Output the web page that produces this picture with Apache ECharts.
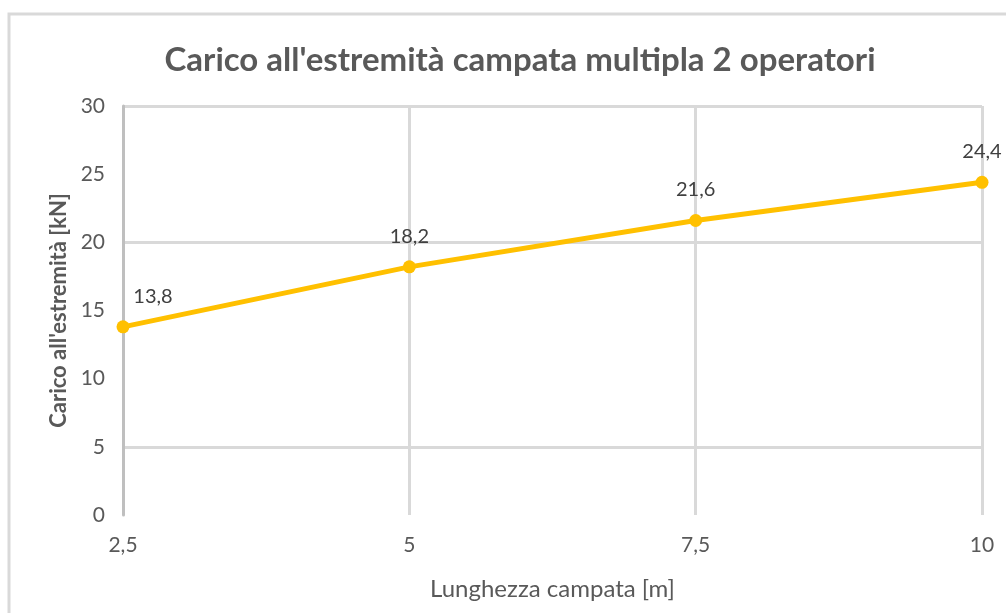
<!DOCTYPE html>
<html>
<head>
<meta charset="utf-8">
<script src="https://cdn.jsdelivr.net/npm/echarts@6/dist/echarts.min.js"></script>
<style>
  html, body { margin: 0; padding: 0; background: #ffffff; }
  #chart { width: 1006px; height: 613px; }
</style>
</head>
<body>
<div id="chart"></div>
<script>
// Span length (m) and end load (kN) for a multi-span run with two workers
const spanLengths = [2.5, 5, 7.5, 10];
const endLoads = [13.8, 18.2, 21.6, 24.4];
const yTicks = [0, 5, 10, 15, 20, 25, 30];

const titleText = "Carico all'estremità campata multipla 2 operatori";
const xName = 'Lunghezza campata [m]';
const yName = "Carico all'estremità [kN]";

const fmt = v => String(v).replace('.', ',');
const font = 'Lato, "Open Sans", sans-serif';
const clear = 'rgba(0,0,0,0)';

const chart = echarts.init(document.getElementById('chart'));
chart.setOption({
  animation: false,
  backgroundColor: '#ffffff',
  graphic: [{
    type: 'rect',
    shape: { x: 9, y: 14, width: 1010, height: 620 },
    style: { fill: 'none', stroke: '#d9d9d9', lineWidth: 3 },
    silent: true
  }],
  title: {
    text: titleText,
    left: 515,
    textAlign: 'center',
    top: 39,
    textStyle: { fontFamily: font, fontSize: 33, fontWeight: 'bold', color: '#595959' }
  },
  grid: { left: 123, right: 24, top: 106, bottom: 98 },
  xAxis: {
    type: 'value',
    min: 2.5, max: 10, interval: 2.5,
    name: xName,
    nameLocation: 'middle',
    nameGap: 62,
    nameTextStyle: { fontFamily: font, fontSize: 24, color: '#595959' },
    axisLine: { show: false },
    axisTick: { show: false },
    axisLabel: { formatter: fmt, margin: 20, fontFamily: font, fontSize: 21, color: '#595959' },
    splitLine: { show: true, lineStyle: { color: '#d9d9d9', width: 3 } }
  },
  yAxis: {
    type: 'value',
    min: yTicks[0], max: yTicks[yTicks.length - 1], interval: 5,
    name: yName,
    nameLocation: 'middle',
    nameGap: 52,
    nameTextStyle: { fontFamily: font, fontSize: 22, fontWeight: 'bold', color: '#595959' },
    axisLine: { show: true, lineStyle: { color: '#bfbfbf', width: 3 } },
    axisTick: { show: false },
    axisLabel: { formatter: fmt, margin: 18, fontFamily: font, fontSize: 21, color: '#595959' },
    splitLine: {
      show: true,
      lineStyle: {
        color: [clear, '#d9d9d9', clear, clear, '#d9d9d9', clear, '#d9d9d9'],
        width: 3
      }
    }
  },
  series: [{
    type: 'line',
    data: spanLengths.map((x, i) => [x, endLoads[i]]),
    symbol: 'circle',
    symbolSize: 13,
    lineStyle: { color: '#ffc000', width: 5 },
    itemStyle: { color: '#ffc000' },
    label: {
      show: true,
      position: 'top',
      distance: 14,
      formatter: p => fmt(p.value[1]),
      fontFamily: font,
      fontSize: 20,
      color: '#404040'
    },
    labelLayout: p => (p.dataIndex === 0 ? { dx: 30 } : {})
  }]
});
</script>
</body>
</html>
